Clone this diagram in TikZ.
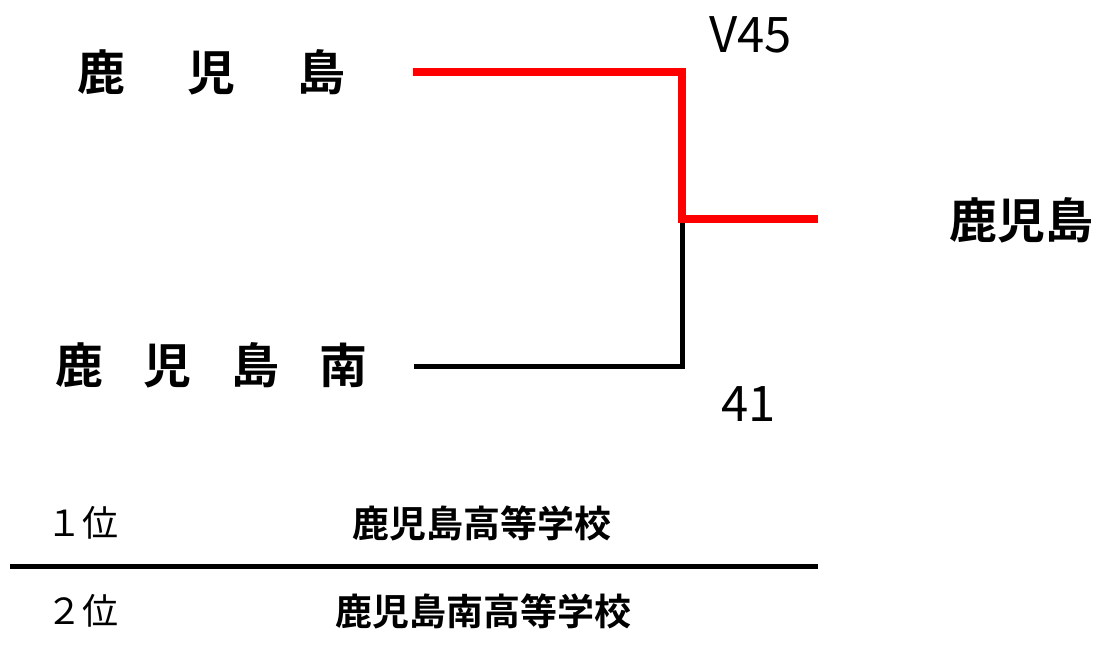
\documentclass[tikz,border=0pt]{standalone}
\usepackage{fontspec}
\newfontfamily\jpbold{Noto Sans CJK JP Bold}
\newfontfamily\jpreg{Noto Sans CJK JP}
\begin{document}
\begin{tikzpicture}[x=1pt,y=-1pt,
  team/.style={inner sep=0pt,font=\jpbold\fontsize{48}{48}\selectfont},
  school/.style={inner sep=0pt,font=\jpbold\fontsize{37}{37}\selectfont},
  rank/.style={inner sep=0pt,font=\jpreg\fontsize{36}{36}\selectfont},
  score/.style={inner sep=0pt,anchor=base,font=\jpreg\fontsize{49}{49}\selectfont},
  winline/.style={draw=red,line width=8pt},
  loseline/.style={draw=black,line width=5pt},
  sepline/.style={draw=black,line width=5pt}]
\useasboundingbox (0,0) rectangle (1095,652);
% teams
\node[team] (kago) at (211.5,72) {鹿\hspace{62pt}児\hspace{62pt}島};
\node[team] (kagominami) at (211.5,365) {鹿\hspace{40pt}児\hspace{40pt}島\hspace{40pt}南};
\node[team] (winner) at (1021,220) {鹿児島};
% bracket points
\coordinate (a1) at (413,72.5);
\coordinate (a2) at (682,72.5);
\coordinate (m) at (682,219);
\coordinate (w) at (818,219);
\coordinate (b1) at (414,366);
\coordinate (b2) at (682,366);
\draw[loseline] (b1) -- (b2) -- (m);
\draw[winline] (a1) -- (a2) -- (m) -- (w);
% scores
\node[score] (s1) at (750.5,53) {V45};
\node[score] (s2) at (748.5,421) {41};
% ranking
\node[rank] (r1) at (82,523) {１位};
\node[school] (n1) at (482,523) {鹿児島高等学校};
\coordinate (l1) at (10,566);
\coordinate (l2) at (818,566);
\draw[sepline] (l1) -- (l2);
\node[rank] (r2) at (82,611) {２位};
\node[school] (n2) at (483,611) {鹿児島南高等学校};
\end{tikzpicture}
\end{document}
